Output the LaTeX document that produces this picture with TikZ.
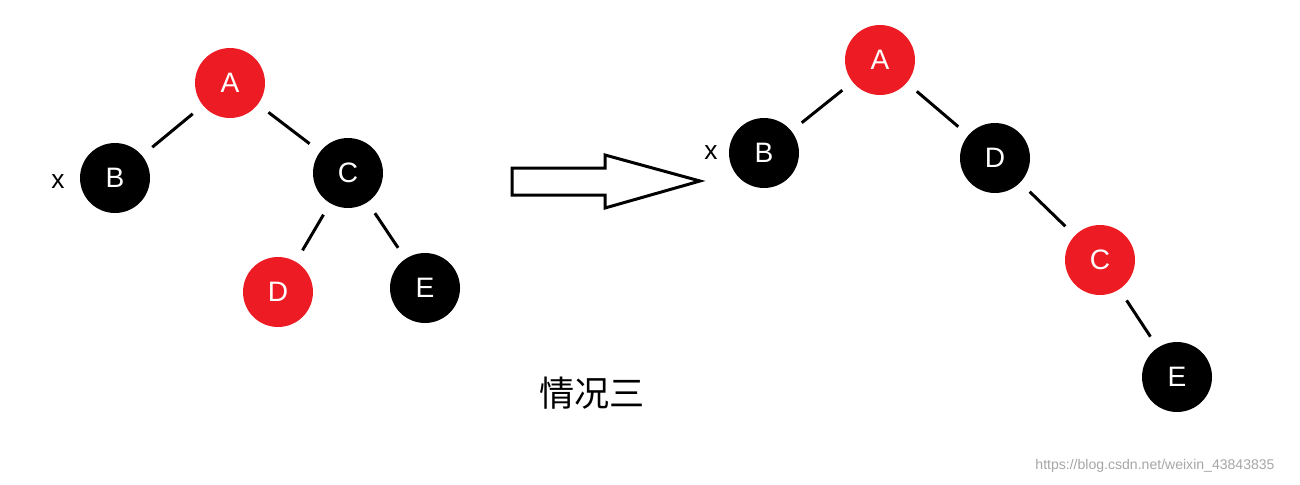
\documentclass[tikz,border=0pt]{standalone}
\usepackage{fontspec}
\setsansfont{Liberation Sans}
\newfontfamily\cjk{Noto Sans CJK SC}
\definecolor{rbred}{RGB}{237,28,36}
\tikzset{
  rbnode/.style={circle, minimum size=1.4cm, inner sep=0pt, text=white, font=\sffamily\fontsize{16}{16}\selectfont},
  rednode/.style={rbnode, fill=rbred},
  blacknode/.style={rbnode, fill=black},
  link/.style={line width=1.7pt, shorten <=0.26cm, shorten >=0.26cm}
}
\begin{document}
\begin{tikzpicture}[x=0.02cm, y=-0.02cm]
    \useasboundingbox (0,0) rectangle (1300,484);

    % before
    \node[rednode] (lA) at (230,83) {A};
    \node[blacknode] (lB) at (115,178) {B};
    \node[blacknode] (lC) at (348,173) {C};
    \node[rednode] (lD) at (278,292) {D};
    \node[blacknode] (lE) at (425,288) {E};
    \node[font=\sffamily\fontsize{15}{15}\selectfont] (lx) at (58,182) {x};
    \draw[link] (lA) -- (lB);
    \draw[link] (lA) -- (lC);
    \draw[link] (lC) -- (lD);
    \draw[link] (lC) -- (lE);

    % arrow
    \draw[line width=1.7pt] (512,168) -- (605,168) -- (605,155) -- (700,181)
        -- (605,208) -- (605,195) -- (512,195) -- cycle;

    % after
    \node[rednode] (rA) at (880,60) {A};
    \node[blacknode] (rB) at (764,153) {B};
    \node[blacknode] (rD) at (995,158) {D};
    \node[rednode] (rC) at (1100,260) {C};
    \node[blacknode] (rE) at (1177,377) {E};
    \node[font=\sffamily\fontsize{15}{15}\selectfont] (rx) at (711,153) {x};
    \draw[link] (rA) -- (rB);
    \draw[link] (rA) -- (rD);
    \draw[link] (rD) -- (rC);
    \draw[link] (rC) -- (rE);

    \node[font=\cjk\fontsize{20}{20}\selectfont] (title) at (592,393) {情况三};
    \node[font=\sffamily\fontsize{8}{8}\selectfont, text=black!35] (mark) at (1155,466) {https://blog.csdn.net/weixin\_43843835};
\end{tikzpicture}
\end{document}
